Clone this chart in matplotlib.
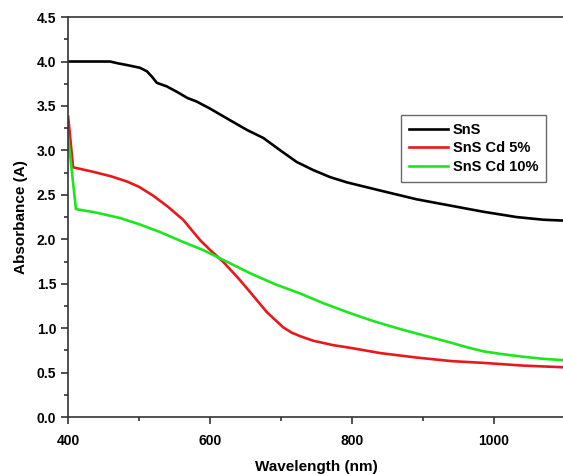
import matplotlib
matplotlib.use("Agg")
import matplotlib.pyplot as plt
from matplotlib.ticker import MultipleLocator, FormatStrFormatter

plt.rcParams['font.family'] = ['Liberation Sans', 'DejaVu Sans']
plt.rcParams['font.weight'] = 'bold'

sns_wl = [400, 430, 459, 470, 483, 501, 511, 518, 525, 532, 539, 553, 568, 581, 600, 628, 652, 675, 699, 722, 745, 769, 793, 839, 891, 938, 985, 1032, 1070, 1100]
sns_abs = [4.00, 4.00, 4.00, 3.98, 3.96, 3.93, 3.89, 3.83, 3.76, 3.74, 3.72, 3.66, 3.59, 3.55, 3.47, 3.34, 3.23, 3.14, 3.00, 2.87, 2.78, 2.70, 2.64, 2.55, 2.45, 2.38, 2.31, 2.25, 2.22, 2.21]

cd5_wl = [400, 407, 435, 460, 483, 500, 520, 540, 562, 586, 600, 618, 640, 656, 680, 703, 715, 727, 745, 773, 797, 840, 891, 940, 985, 1040, 1100]
cd5_abs = [3.38, 2.81, 2.76, 2.71, 2.65, 2.59, 2.49, 2.37, 2.22, 1.99, 1.88, 1.75, 1.56, 1.41, 1.18, 1.01, 0.95, 0.91, 0.86, 0.81, 0.78, 0.72, 0.67, 0.63, 0.61, 0.58, 0.56]

cd10_wl = [400, 411, 440, 473, 500, 530, 562, 590, 618, 656, 690, 727, 760, 797, 830, 868, 910, 938, 960, 985, 1010, 1040, 1070, 1100]
cd10_abs = [3.15, 2.34, 2.30, 2.24, 2.17, 2.08, 1.97, 1.88, 1.77, 1.62, 1.50, 1.39, 1.28, 1.17, 1.08, 0.99, 0.90, 0.84, 0.79, 0.74, 0.71, 0.68, 0.655, 0.64]

fig = plt.figure(figsize=(5.63, 4.74), dpi=100)
ax = fig.add_axes([0.121, 0.120, 0.8826, 0.844])

ax.plot(sns_wl, sns_abs, color='black', lw=1.9, label='SnS', solid_joinstyle='round')
ax.plot(cd5_wl, cd5_abs, color='#e8191c', lw=1.9, label='SnS Cd 5%', solid_joinstyle='round')
ax.plot(cd10_wl, cd10_abs, color='#1ee61e', lw=1.9, label='SnS Cd 10%', solid_joinstyle='round')

ax.set_xlim(400, 1100)
ax.set_ylim(0, 4.5)
ax.xaxis.set_major_locator(MultipleLocator(200))
ax.xaxis.set_minor_locator(MultipleLocator(100))
ax.yaxis.set_major_locator(MultipleLocator(0.5))
ax.yaxis.set_minor_locator(MultipleLocator(0.25))
ax.yaxis.set_major_formatter(FormatStrFormatter('%.1f'))
ax.tick_params(which='both', direction='out', top=False, right=False, labelsize=10, width=1.2, color='#333333')
ax.tick_params(which='major', length=5)
ax.tick_params(which='minor', length=3)
ax.tick_params(axis='x', which='major', pad=7)
for lab in ax.get_xticklabels() + ax.get_yticklabels():
    lab.set_fontweight('bold')
for s in ax.spines.values():
    s.set_linewidth(1.2)
    s.set_color('#333333')

ax.set_xlabel('Wavelength (nm)', fontsize=11, fontweight='bold', labelpad=9)
ax.set_ylabel('Absorbance (A)', fontsize=11, fontweight='bold', labelpad=6)

leg = ax.legend(loc='upper left', bbox_to_anchor=(0.67, 0.755), fontsize=10.5, frameon=True,
                fancybox=False, edgecolor='#444444', handlelength=2.7, handletextpad=0.3,
                borderpad=0.55, labelspacing=0.3, borderaxespad=0)
leg.get_frame().set_linewidth(1.0)
for t in leg.get_texts():
    t.set_fontweight('bold')

fig.savefig('out.png', dpi=100)
